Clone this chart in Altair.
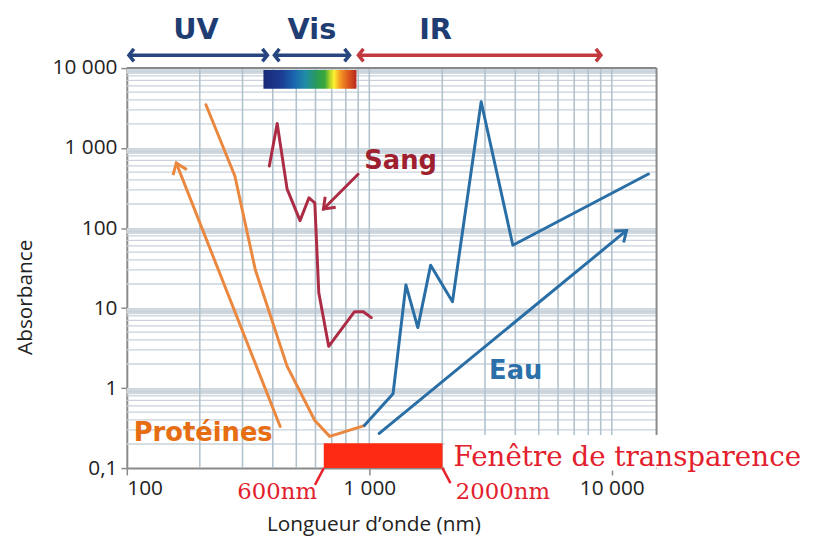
import json
import math
import altair as alt
import pandas as pd

# ---------------- layout ----------------
W, H = 535, 404
X_DOMAIN = [100, 15300]
Y_DOMAIN = [0.1, 10000]

# ---------------- axis ticks ----------------
x_tick_values = [100, 1000, 10000]
x_tick_labels = ["100", "1 000", "10 000"]
y_tick_values = [0.1, 1, 10, 100, 1000, 10000]
y_tick_labels = ["0,1", "1", "10", "100", "1 000", "10 000"]

# ---------------- curves ----------------
prot_x = [212, 279, 339, 458, 596, 687, 954]
prot_y = [3480, 448, 29.9, 1.88, 0.393, 0.249, 0.340]
prot_arrow_x = [429, 160]
prot_arrow_y = [0.331, 648]

sang_x = [387, 417, 458, 518, 564, 596, 619, 680, 869, 945, 1019]
sang_y = [596, 2030, 309, 124, 239, 207, 15.5, 3.33, 9.0, 9.0, 7.6]
sang_arrow_x = [899, 647]
sang_arrow_y = [470, 173]

eau_x = [954, 1253, 1416, 1585, 1791, 2203, 2893, 3908, 14160]
eau_y = [0.340, 0.848, 19.5, 5.7, 34.4, 12.0, 3796, 60.9, 474]
eau_arrow_x = [1099, 11510]
eau_arrow_y = [0.271, 93.3]

# ---------------- spectral domains ----------------
band_names = ["UV", "Vis", "IR"]
band_start = [102, 406, 902]
band_end = [380, 829, 9020]
band_label_x = [193, 580, 1876]
band_colors = ["#27467f", "#27467f", "#c23a3f"]
band_arrow_y = 14490
band_label_y = 29500

rainbow_x = [366, 885]
rainbow_y = [5500, 9450]
rainbow_offsets = [0, 0.2, 0.33, 0.45, 0.57, 0.66, 0.72, 0.76, 0.82, 0.9, 1]
rainbow_colors = ["#1a2a78", "#1c3d93", "#1b66ae", "#1f8ca8", "#2a9a5a", "#3aa83a",
                  "#b8d828", "#fff030", "#f5a023", "#e0601e", "#b8261e"]

# transparency window
window_x = [649, 2004]
window_y = [0.1, 0.204]
leader_x = [[649, 597], [2004, 2161]]
leader_y = [[0.1, 0.0617], [0.1, 0.065]]
window_text = "Fenêtre de transparence"
window_text_x, window_text_y = 2223, 0.133
edge_labels = ["600nm", "2000nm"]
edge_label_x = [417, 3556]
edge_label_y = 0.0505

# white text box over the plot corner
whitebox_x = [2043, 15300]
whitebox_y = [0.093, 0.26]

# curve labels
curve_labels = ["Sang", "Protéines", "Eau"]
curve_label_x = [954, 106.8, 3119]
curve_label_y = [687, 0.271, 1.63]
curve_label_colors = ["#9e1f30", "#e66d12", "#2b70a8"]

PROT_C = "#ea8840"
SANG_C = "#ad2c45"
EAU_C = "#2a6ea6"

# ---------------- scales / axes ----------------
xs = alt.Scale(type="log", domain=X_DOMAIN, nice=False)
ys = alt.Scale(type="log", domain=Y_DOMAIN, nice=False)


def label_expr(values, labels):
    mapping = {str(v): l for v, l in zip(values, labels)}
    return json.dumps(mapping) + "[''+datum.value]"


x_axis = alt.Axis(values=x_tick_values, labelExpr=label_expr(x_tick_values, x_tick_labels),
                  title="Longueur d’onde (nm)", grid=False, labelFlush=True,
                  labelFont="Open Sans", labelFontSize=21, labelColor="#222",
                  labelPadding=3, tickColor="#8a8a8a", tickSize=7, tickWidth=1.5,
                  domainColor="#8a8a8a", domainWidth=2,
                  titleFont="Open Sans", titleFontSize=21, titleFontWeight="normal",
                  titleColor="#222", titleX=249, titleY=57, titleBaseline="middle")
y_axis = alt.Axis(values=y_tick_values, labelExpr=label_expr(y_tick_values, y_tick_labels),
                  title="Absorbance", grid=False,
                  labelFont="Open Sans", labelFontSize=21, labelColor="#222",
                  labelPadding=4, tickColor="#8a8a8a", tickSize=6, tickWidth=1.5,
                  domainColor="#8a8a8a", domainWidth=2,
                  titleFont="Open Sans", titleFontSize=21, titleFontWeight="normal",
                  titleColor="#222", titleX=-102, titleY=231, titleBaseline="middle")


def X(f):
    return alt.X(f"{f}:Q", scale=xs, axis=x_axis)


def Y(f):
    return alt.Y(f"{f}:Q", scale=ys, axis=y_axis)


px_dec_x = W / (math.log10(X_DOMAIN[1]) - math.log10(X_DOMAIN[0]))
px_dec_y = H / (math.log10(Y_DOMAIN[1]) - math.log10(Y_DOMAIN[0]))


def screen_angle(x0, y0, x1, y1):
    dx = (math.log10(x1) - math.log10(x0)) * px_dec_x
    dy = -(math.log10(y1) - math.log10(y0)) * px_dec_y
    return math.degrees(math.atan2(dy, dx)) % 360


layers = []

# decade bands
decades = [1, 10, 100, 1000, 10000]
bands = pd.DataFrame({"y0": [d * 0.84 for d in decades], "y1": decades})
layers.append(alt.Chart(bands).mark_rect(color="#d0d8e0").encode(
    x=alt.value(0), x2=alt.value(W), y=Y("y0"), y2="y1"))

# horizontal minor grid
hvals = [m * 10.0 ** k for k in range(-1, 4) for m in range(2, 10)]
layers.append(alt.Chart(pd.DataFrame({"v": hvals})).mark_rule(
    color="#c9d2da", strokeWidth=1.3).encode(y=Y("v")))
# vertical grid
vvals = [m * 10 ** k for k in range(2, 5) for m in range(1, 10)
         if 100 < m * 10 ** k < X_DOMAIN[1]]
layers.append(alt.Chart(pd.DataFrame({"v": vvals})).mark_rule(
    color="#b3c3ce", strokeWidth=1.6).encode(x=X("v")))

# plot border (top + right)
layers.append(alt.Chart(pd.DataFrame({"y": [Y_DOMAIN[1]]})).mark_rule(
    color="#8a8a8a", strokeWidth=2).encode(y=Y("y")))
layers.append(alt.Chart(pd.DataFrame({"x": [X_DOMAIN[1]], "y0": [whitebox_y[1]], "y1": [Y_DOMAIN[1]]}))
              .mark_rule(color="#8a8a8a", strokeWidth=2).encode(x=X("x"), y=Y("y0"), y2="y1"))

# white box
layers.append(alt.Chart(pd.DataFrame({"x0": [whitebox_x[0]], "x1": [whitebox_x[1]],
                                      "y0": [whitebox_y[0]], "y1": [whitebox_y[1]]}))
              .mark_rect(color="white").encode(x=X("x0"), x2="x1", y=Y("y0"), y2="y1"))

# transparency window
layers.append(alt.Chart(pd.DataFrame({"x0": [window_x[0]], "x1": [window_x[1]],
                                      "y0": [window_y[0]], "y1": [window_y[1]]}))
              .mark_rect(color="#ff2a12").encode(x=X("x0"), x2="x1", y=Y("y0"), y2="y1"))
lead = pd.DataFrame({"x0": [l[0] for l in leader_x], "x1": [l[1] for l in leader_x],
                     "y0": [l[0] for l in leader_y], "y1": [l[1] for l in leader_y]})
layers.append(alt.Chart(lead).mark_rule(color="#e8202a", strokeWidth=2.5).encode(
    x=X("x0"), x2="x1", y=Y("y0"), y2="y1"))

# rainbow
grad = {"gradient": "linear", "x1": 0, "y1": 0, "x2": 1, "y2": 0,
        "stops": [{"offset": o, "color": c} for o, c in zip(rainbow_offsets, rainbow_colors)]}
layers.append(alt.Chart(pd.DataFrame({"x0": [rainbow_x[0]], "x1": [rainbow_x[1]],
                                      "y0": [rainbow_y[0]], "y1": [rainbow_y[1]]}))
              .mark_rect(fill=grad).encode(x=X("x0"), x2="x1", y=Y("y0"), y2="y1"))

# spectral arrows
bdf = pd.DataFrame({"name": band_names, "start": band_start, "end": band_end,
                    "lx": band_label_x, "color": band_colors,
                    "ay": [band_arrow_y] * 3, "ly": [band_label_y] * 3})
layers.append(alt.Chart(bdf).mark_rule(strokeWidth=3.5).encode(
    x=X("start"), x2="end", y=Y("ay"), color=alt.Color("color:N", scale=None)))
heads = pd.DataFrame({"x": band_start + band_end, "y": [band_arrow_y] * 6,
                      "angle": [180] * 3 + [0] * 3, "color": band_colors * 2})
CHEV_SMALL = "M -0.8 -1 L 0 0 L -0.8 1"
layers.append(alt.Chart(heads).mark_point(shape=CHEV_SMALL, filled=False, strokeWidth=3.5,
                                          size=160, opacity=1, strokeJoin="miter").encode(
    x=X("x"), y=Y("y"), angle=alt.Angle("angle:Q", scale=None),
    color=alt.Color("color:N", scale=None)))
layers.append(alt.Chart(bdf).mark_text(font="DejaVu Sans", fontWeight="bold", fontSize=29,
                                       color="#1f3d73", baseline="middle").encode(
    x=X("lx"), y=Y("ly"), text="name:N"))


# curves
def line_layer(xv, yv, color):
    df = pd.DataFrame({"x": xv, "y": yv, "i": range(len(xv))})
    return alt.Chart(df).mark_line(color=color, strokeWidth=3, strokeJoin="round",
                                   strokeCap="round").encode(
        x=X("x"), y=Y("y"), order=alt.Order("i:Q"))


CHEV = "M -1 -0.75 L 0 0 L -1 0.75"


def head_layer(xv, yv, color):
    ang = screen_angle(xv[-2], yv[-2], xv[-1], yv[-1])
    df = pd.DataFrame({"x": [xv[-1]], "y": [yv[-1]], "angle": [ang]})
    return alt.Chart(df).mark_point(shape=CHEV, filled=False, strokeWidth=3, size=400,
                                    color=color, opacity=1).encode(
        x=X("x"), y=Y("y"), angle=alt.Angle("angle:Q", scale=None))


layers.append(line_layer(prot_x, prot_y, PROT_C))
layers.append(line_layer(prot_arrow_x, prot_arrow_y, PROT_C))
layers.append(head_layer(prot_arrow_x, prot_arrow_y, PROT_C))
layers.append(line_layer(sang_x, sang_y, SANG_C))
layers.append(line_layer(sang_arrow_x, sang_arrow_y, SANG_C))
layers.append(head_layer(sang_arrow_x, sang_arrow_y, SANG_C))
layers.append(line_layer(eau_x, eau_y, EAU_C))
layers.append(line_layer(eau_arrow_x, eau_arrow_y, EAU_C))
layers.append(head_layer(eau_arrow_x, eau_arrow_y, EAU_C))

# curve labels
cl = pd.DataFrame({"t": curve_labels, "x": curve_label_x, "y": curve_label_y,
                   "c": curve_label_colors})
layers.append(alt.Chart(cl).mark_text(font="DejaVu Sans", fontWeight="bold", fontSize=26,
                                      align="left", baseline="middle").encode(
    x=X("x"), y=Y("y"), text="t:N", color=alt.Color("c:N", scale=None)))

# window labels
layers.append(alt.Chart(pd.DataFrame({"t": [window_text], "x": [window_text_x], "y": [window_text_y]}))
              .mark_text(font="DejaVu Serif", fontSize=28, color="#e3202c", align="left",
                         baseline="middle").encode(x=X("x"), y=Y("y"), text="t:N"))
layers.append(alt.Chart(pd.DataFrame({"t": edge_labels, "x": edge_label_x, "y": [edge_label_y] * 2}))
              .mark_text(font="DejaVu Serif", fontSize=23, color="#e3202c", align="center",
                         baseline="middle").encode(x=X("x"), y=Y("y"), text="t:N"))

chart = alt.layer(*layers).properties(
    width=W, height=H,
    autosize=alt.AutoSizeParams(type="none"),
    padding={"left": 120, "top": 58, "right": 158, "bottom": 72},
    background="white",
).configure_view(stroke=None)

chart.save("out.html", embed_options={"renderer": "svg", "actions": False})
